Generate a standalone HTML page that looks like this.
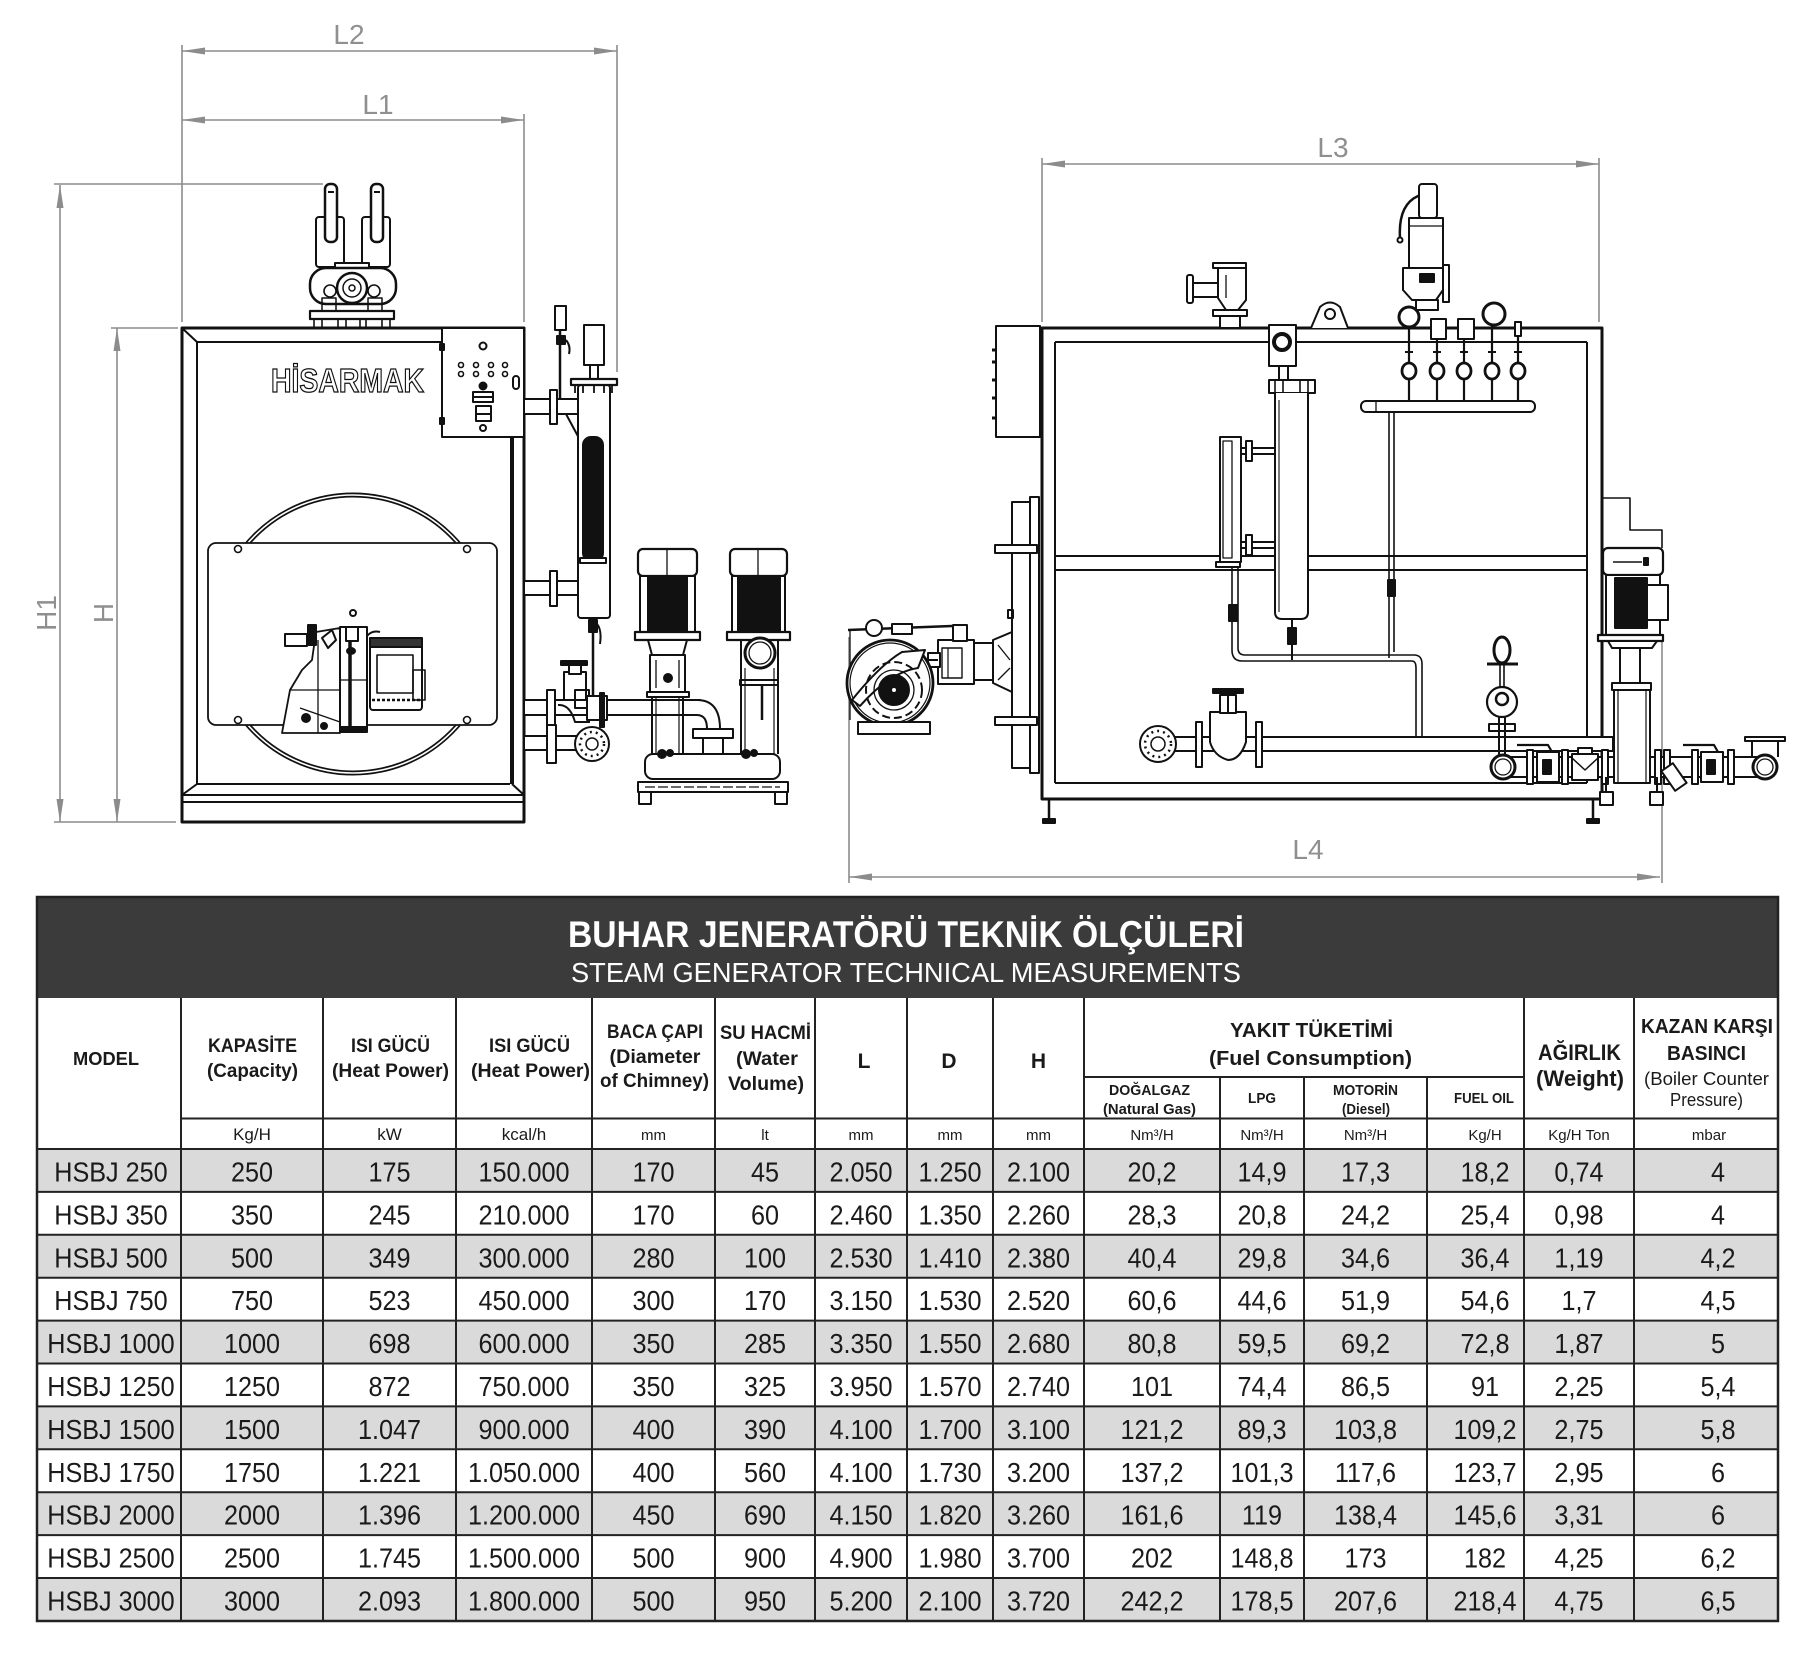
<!DOCTYPE html>
<html>
<head>
<meta charset="utf-8">
<style>
html,body{margin:0;padding:0;background:#fff;}
svg{display:block;}
</style>
</head>
<body>
<svg xmlns="http://www.w3.org/2000/svg" width="1815" height="1673" viewBox="0 0 1815 1673" font-family="'Liberation Sans', sans-serif">
<rect width="1815" height="1673" fill="#fff"/>

<!-- ============ DIMENSIONS ============ -->
<g stroke="#8c8c8c" stroke-width="1.6" fill="none">
  <line x1="182" y1="51" x2="617" y2="51"/>
  <line x1="182" y1="120" x2="524" y2="120"/>
  <line x1="182" y1="45" x2="182" y2="322"/>
  <line x1="524" y1="114" x2="524" y2="322"/>
  <line x1="617" y1="45" x2="617" y2="372"/>
  <line x1="60" y1="185" x2="60" y2="822"/>
  <line x1="117" y1="328" x2="117" y2="822"/>
  <line x1="54" y1="184" x2="323" y2="184"/>
  <line x1="54" y1="822" x2="176" y2="822"/>
  <line x1="111" y1="328" x2="178" y2="328"/>
  <line x1="1042" y1="164" x2="1599" y2="164"/>
  <line x1="1042" y1="158" x2="1042" y2="322"/>
  <line x1="1599" y1="158" x2="1599" y2="322"/>
  <line x1="849" y1="877" x2="1660" y2="877"/>
  <line x1="849" y1="637" x2="849" y2="883"/>
  <line x1="1662" y1="640" x2="1662" y2="883"/>
</g>
<g fill="#8c8c8c">
  <polygon points="182,51 205,47.5 205,54.5"/><polygon points="617,51 594,47.5 594,54.5"/>
  <polygon points="182,120 205,116.5 205,123.5"/><polygon points="524,120 501,116.5 501,123.5"/>
  <polygon points="60,185 56.5,208 63.5,208"/><polygon points="60,822 56.5,799 63.5,799"/>
  <polygon points="117,328 113.5,351 120.5,351"/><polygon points="117,822 113.5,799 120.5,799"/>
  <polygon points="1042,164 1065,160.5 1065,167.5"/><polygon points="1599,164 1576,160.5 1576,167.5"/>
  <polygon points="849,877 872,873.5 872,880.5"/><polygon points="1660,877 1637,873.5 1637,880.5"/>
</g>
<g fill="#8f8f8f" font-size="28" text-anchor="middle">
  <text x="349" y="44">L2</text>
  <text x="378" y="114">L1</text>
  <text x="1333" y="157">L3</text>
  <text x="1308" y="859">L4</text>
  <text transform="translate(56,613) rotate(-90)">H1</text>
  <text transform="translate(113,613) rotate(-90)">H</text>
</g>

<!-- ============ LEFT DRAWING ============ -->
<g stroke="#111" fill="none" stroke-width="2" stroke-linejoin="round">
  <!-- body -->
  <rect x="182" y="328" width="342" height="494" stroke-width="3" fill="#fff"/>
  <path d="M197,784 V342 H442"/>
  <path d="M197,784 H510"/>
  <line x1="512" y1="437" x2="512" y2="784" stroke-width="4"/>
  <line x1="182" y1="328" x2="197" y2="342"/>
  <line x1="182" y1="795" x2="197" y2="784"/>
  <line x1="524" y1="795" x2="512" y2="784"/>
  <line x1="182" y1="795" x2="524" y2="795"/>
  <line x1="182" y1="802" x2="524" y2="802"/>

  <!-- control panel -->
  <rect x="442" y="328" width="82" height="109" fill="#fff"/>
  <circle cx="483" cy="346" r="3.5"/>
  <g stroke-width="1.6">
    <circle cx="461" cy="365" r="2.5"/><circle cx="476" cy="365" r="2.5"/><circle cx="491" cy="365" r="2.5"/><circle cx="505" cy="365" r="2.5"/>
    <circle cx="461" cy="374" r="2.5"/><circle cx="476" cy="374" r="2.5"/><circle cx="491" cy="374" r="2.5"/><circle cx="505" cy="374" r="2.5"/>
  </g>
  <circle cx="483" cy="386" r="3.5" fill="#111"/>
  <rect x="513" y="376" width="6" height="13" rx="3"/>
  <rect x="473" y="392" width="20" height="10"/>
  <line x1="473" y1="397" x2="493" y2="397"/>
  <rect x="476" y="406" width="15" height="15"/>
  <line x1="476" y1="414" x2="491" y2="414"/>
  <circle cx="483" cy="428" r="3"/>
  <rect x="440" y="344" width="4" height="6" fill="#111"/>
  <rect x="440" y="418" width="4" height="6" fill="#111"/>

  <!-- door -->
  <circle cx="353" cy="634" r="139" stroke-width="5"/>
  <circle cx="353" cy="634" r="139" stroke="#fff" stroke-width="1.6"/>
  <rect x="208" y="543" width="289" height="182" rx="8" fill="#fff" stroke-width="1.8"/>
  <g stroke-width="1.6">
    <circle cx="238" cy="549" r="3.5"/><circle cx="467" cy="549" r="3.5"/>
    <circle cx="238" cy="720" r="3.5"/><circle cx="467" cy="720" r="3.5"/>
  </g>

  <!-- burner -->
  <circle cx="353" cy="613" r="3"/>
  <path d="M282,733 L290,690 L302,670 L312,660 L316,632 L340,628 L340,733 Z" fill="#fff" stroke-width="1.8"/>
  <line x1="290" y1="690" x2="340" y2="690" stroke-width="1.3"/>
  <line x1="300" y1="708" x2="340" y2="722" stroke-width="1.3"/>
  <line x1="318" y1="640" x2="318" y2="733" stroke-width="1.3"/>
  <rect x="285" y="634" width="22" height="12" fill="#fff"/>
  <rect x="308" y="625" width="8" height="20" fill="#111"/>
  <path d="M322,638 L332,630 L336,640 L328,648 Z" fill="#fff"/>
  <circle cx="306" cy="718" r="4" fill="#111"/>
  <circle cx="324" cy="726" r="3" fill="#111"/>
  <rect x="340" y="627" width="27" height="104" fill="#fff"/>
  <line x1="350" y1="640" x2="350" y2="731" stroke-width="3.5"/>
  <rect x="346" y="627" width="12" height="14" fill="#fff"/>
  <ellipse cx="351" cy="651" rx="4" ry="3" fill="#111"/>
  <line x1="340" y1="680" x2="367" y2="680" stroke-width="1.2"/>
  <rect x="340" y="727" width="27" height="5" fill="#111"/>
  <path d="M367,636 Q372,630 380,632" />
  <rect x="370" y="638" width="52" height="72" rx="3" fill="#fff"/>
  <rect x="370" y="638" width="52" height="9" fill="#333"/>
  <rect x="377" y="655" width="36" height="38" stroke-width="1.6"/>
  <rect x="413" y="670" width="12" height="30" stroke-width="1.6"/>
  <line x1="372" y1="700" x2="420" y2="700" stroke-width="2.5" stroke-dasharray="3,2"/>

  <!-- safety valves on top -->
  <rect x="316" y="217" width="28" height="50" rx="3" fill="#fff"/>
  <rect x="362" y="217" width="28" height="50" rx="3" fill="#fff"/>
  <rect x="325" y="184" width="12" height="58" rx="5" fill="#fff" stroke-width="2.5"/>
  <rect x="371" y="184" width="12" height="58" rx="5" fill="#fff" stroke-width="2.5"/>
  <line x1="328" y1="192" x2="334" y2="192"/><line x1="374" y1="192" x2="380" y2="192"/>
  <rect x="335" y="263" width="34" height="7" fill="#fff"/>
  <rect x="310" y="268" width="86" height="36" rx="16" fill="#fff" stroke-width="2.5"/>
  <circle cx="352" cy="288" r="15" stroke-width="2.5" fill="#fff"/>
  <circle cx="352" cy="288" r="9" stroke-width="1.5"/>
  <circle cx="352" cy="288" r="3" stroke-width="1.5"/>
  <circle cx="330" cy="291" r="6" stroke-width="1.6"/>
  <circle cx="374" cy="291" r="6" stroke-width="1.6"/>
  <rect x="322" y="298" width="14" height="13" stroke-width="1.5"/>
  <rect x="368" y="298" width="14" height="13" stroke-width="1.5"/>
  <rect x="310" y="311" width="84" height="8" fill="#fff" stroke-width="2.2"/>
  <g stroke-width="1.6">
    <line x1="314" y1="319" x2="314" y2="328"/><line x1="322" y1="319" x2="322" y2="328"/>
    <line x1="338" y1="319" x2="338" y2="328"/><line x1="346" y1="319" x2="346" y2="328"/>
    <line x1="360" y1="319" x2="360" y2="328"/><line x1="366" y1="319" x2="366" y2="328"/>
    <line x1="382" y1="319" x2="382" y2="328"/><line x1="390" y1="319" x2="390" y2="328"/>
  </g>

  <!-- right side column & pipes -->
  <rect x="524" y="399" width="56" height="15" fill="#fff"/>
  <rect x="550" y="390" width="7" height="34" fill="#fff"/>
  <rect x="524" y="581" width="56" height="14" fill="#fff"/>
  <rect x="550" y="571" width="7" height="35" fill="#fff"/>
  <line x1="566" y1="414" x2="580" y2="440"/>
  <rect x="578" y="385" width="32" height="233" rx="3" fill="#fff"/>
  <rect x="571" y="379" width="46" height="6" fill="#fff" stroke-width="2.2"/>
  <g stroke-width="1.8">
    <line x1="575" y1="385" x2="575" y2="393"/><line x1="583" y1="385" x2="583" y2="393"/>
    <line x1="594" y1="385" x2="594" y2="393"/><line x1="604" y1="385" x2="604" y2="393"/>
    <line x1="612" y1="385" x2="612" y2="393"/>
  </g>
  <rect x="584" y="325" width="20" height="40" fill="#fff"/>
  <rect x="590" y="365" width="8" height="14"/>
  <rect x="583" y="437" width="20" height="124" rx="8" fill="#111"/>
  <rect x="580" y="558" width="26" height="5" fill="#fff"/>
  <rect x="555" y="306" width="11" height="24" fill="#fff"/>
  <line x1="560" y1="330" x2="560" y2="400" stroke-width="2.5"/>
  <path d="M557,336 h8 v8 h-8 z" fill="#111"/>
  <path d="M566,340 q5,6 3,14" />
  <line x1="593" y1="618" x2="593" y2="700" stroke-width="2.5"/>
  <rect x="589" y="620" width="8" height="12" fill="#111"/>
  <path d="M597,624 q5,6 3,20"/>
  <!-- bottom pipes left -->
  <rect x="524" y="700" width="176" height="15" fill="#fff"/>
  <path d="M697,700 Q720,700 720,729 L707,729 Q707,715 697,715" fill="#fff"/>
  <rect x="693" y="729" width="40" height="9" fill="#fff"/>
  <rect x="703" y="738" width="20" height="16" fill="#fff"/>
  <rect x="547" y="690" width="8" height="35" fill="#fff"/>
  <rect x="524" y="736" width="70" height="14" fill="#fff"/>
  <rect x="547" y="725" width="9" height="38" fill="#fff"/>
  <circle cx="592" cy="744" r="17" fill="#fff"/>
  <circle cx="592" cy="744" r="12" stroke-width="2.5" stroke-dasharray="2,4"/>
  <circle cx="592" cy="744" r="6" stroke-width="1.5"/>
  <rect x="564" y="672" width="22" height="28" fill="#fff"/>
  <rect x="569" y="664" width="12" height="10" fill="#fff"/>
  <rect x="561" y="661" width="26" height="4" fill="#111"/>
  <rect x="575" y="690" width="14" height="18"/>
  <path d="M558,705 Q570,704 575,722 L590,722" />
  <rect x="587" y="696" width="20" height="24" fill="#fff"/>
  <rect x="600" y="693" width="4" height="34" fill="#111"/>

  <!-- pumps left -->
  <rect x="638" y="549" width="59" height="27" rx="5" fill="#fff" stroke-width="2.2"/>
  <line x1="667" y1="549" x2="667" y2="576" stroke-width="1.3"/>
  <rect x="640" y="576" width="55" height="58" fill="#fff"/>
  <rect x="648" y="576" width="39" height="56" fill="#111"/>
  <rect x="635" y="632" width="65" height="8" fill="#fff" stroke-width="2.2"/>
  <path d="M648,640 H687 L683,655 H652 Z" fill="#fff"/>
  <rect x="650" y="655" width="35" height="37" fill="#fff"/>
  <line x1="656" y1="660" x2="656" y2="688" stroke-width="1.3"/>
  <line x1="679" y1="660" x2="679" y2="688" stroke-width="1.3"/>
  <circle cx="668" cy="678" r="4" fill="#111"/>
  <rect x="647" y="692" width="42" height="5"/>
  <line x1="652" y1="697" x2="652" y2="754"/><line x1="683" y1="697" x2="683" y2="754"/>
  <line x1="656" y1="697" x2="656" y2="754" stroke-width="1.2"/><line x1="679" y1="697" x2="679" y2="754" stroke-width="1.2"/>

  <rect x="730" y="549" width="57" height="27" rx="5" fill="#fff" stroke-width="2.2"/>
  <line x1="758" y1="549" x2="758" y2="576" stroke-width="1.3"/>
  <rect x="732" y="576" width="53" height="58" fill="#fff"/>
  <rect x="738" y="576" width="42" height="56" fill="#111"/>
  <rect x="727" y="632" width="63" height="8" fill="#fff" stroke-width="2.2"/>
  <line x1="741" y1="640" x2="741" y2="754"/><line x1="778" y1="640" x2="778" y2="754"/>
  <line x1="745" y1="668" x2="745" y2="754" stroke-width="1.2"/><line x1="774" y1="668" x2="774" y2="754" stroke-width="1.2"/>
  <circle cx="760" cy="653" r="15" fill="#fff" stroke-width="3"/>
  <circle cx="760" cy="653" r="11" stroke-width="1.3"/>
  <rect x="740" y="680" width="38" height="5"/>
  <line x1="762" y1="685" x2="762" y2="720" stroke-width="2.5"/>

  <rect x="645" y="754" width="135" height="25" rx="8" fill="#fff"/>
  <circle cx="662" cy="754" r="4" fill="#111"/><circle cx="670" cy="753" r="3" fill="#111"/>
  <circle cx="746" cy="754" r="4" fill="#111"/><circle cx="754" cy="753" r="3" fill="#111"/>
  <rect x="638" y="782" width="150" height="10" fill="#fff"/>
  <line x1="645" y1="787" x2="780" y2="787" stroke-width="1.2" stroke-dasharray="10,3"/>
  <rect x="639" y="792" width="12" height="12" fill="#fff"/>
  <rect x="775" y="792" width="12" height="12" fill="#fff"/>
</g>
<text x="271" y="392" font-size="33" font-weight="bold" fill="#fff" stroke="#111" stroke-width="1.3" textLength="153" lengthAdjust="spacingAndGlyphs">HİSARMAK</text>

<!-- ============ RIGHT DRAWING ============ -->
<g stroke="#111" fill="none" stroke-width="2" stroke-linejoin="round">
  <!-- frame -->
  <rect x="1042" y="328" width="560" height="471" stroke-width="3"/>
  <line x1="1055" y1="342" x2="1587" y2="342"/>
  <line x1="1055" y1="342" x2="1055" y2="783"/>
  <line x1="1587" y1="342" x2="1587" y2="783"/>
  <line x1="1055" y1="556" x2="1587" y2="556"/>
  <line x1="1055" y1="570" x2="1587" y2="570"/>
  <line x1="1055" y1="783" x2="1587" y2="783"/>
  <line x1="1049" y1="799" x2="1049" y2="820" stroke-width="2.5"/>
  <rect x="1043" y="819" width="12" height="4" fill="#111"/>
  <line x1="1593" y1="799" x2="1593" y2="820" stroke-width="2.5"/>
  <rect x="1587" y="819" width="12" height="4" fill="#111"/>
  <!-- left box -->
  <rect x="996" y="326" width="44" height="111" fill="#fff"/>
  <g stroke-width="3">
    <line x1="992" y1="350" x2="996" y2="350"/><line x1="992" y1="362" x2="996" y2="362"/>
    <line x1="992" y1="380" x2="996" y2="380"/><line x1="992" y1="398" x2="996" y2="398"/>
    <line x1="992" y1="418" x2="996" y2="418"/>
  </g>
  <!-- front plate -->
  <rect x="1030" y="497" width="9" height="276" fill="#fff"/>
  <rect x="1012" y="502" width="18" height="266" fill="#fff"/>
  <rect x="995" y="545" width="42" height="8" fill="#fff"/>
  <rect x="995" y="717" width="42" height="8" fill="#fff"/>
  <rect x="1008" y="610" width="5" height="8"/>
  <!-- burner -->
  <path d="M993,640 L1012,632 L1012,692 L993,683 Z" fill="#fff"/>
  <path d="M998,645 L1010,660 M998,680 L1010,668" stroke-width="1.3"/>
  <rect x="973" y="643" width="20" height="37" fill="#fff"/>
  <rect x="938" y="640" width="36" height="44" fill="#fff"/>
  <rect x="942" y="648" width="20" height="30" stroke-width="1.4"/>
  <line x1="948" y1="648" x2="948" y2="678" stroke-width="1.2"/>
  <rect x="953" y="625" width="14" height="16" fill="#fff"/>
  <rect x="928" y="653" width="12" height="14" fill="#fff"/>
  <line x1="848" y1="630" x2="952" y2="626" stroke-width="2.5"/>
  <line x1="850" y1="630" x2="850" y2="720" stroke-width="1.3"/>
  <circle cx="874" cy="628" r="8" fill="#fff"/>
  <rect x="892" y="624" width="20" height="10" fill="#fff"/>
  <circle cx="890" cy="683" r="43" fill="#fff" stroke-width="2.8"/>
  <circle cx="890" cy="683" r="40" stroke-width="1.2"/>
  <path d="M852,700 Q880,665 902,652 L925,650 L918,668 Q890,672 860,706 Z" fill="#fff"/>
  <circle cx="894" cy="690" r="28" stroke-width="2" stroke-dasharray="8,4"/>
  <circle cx="894" cy="690" r="20" stroke-width="1.3"/>
  <circle cx="894" cy="690" r="15" fill="#111"/>
  <circle cx="894" cy="690" r="2" fill="#fff" stroke="none"/>
  <rect x="858" y="722" width="72" height="12" fill="#fff"/>
  <line x1="928" y1="660" x2="938" y2="660"/>

  <!-- top: steam valve -->
  <rect x="1187" y="275" width="6" height="28" rx="2" fill="#fff"/>
  <rect x="1193" y="283" width="26" height="14" fill="#fff"/>
  <path d="M1218,268 L1246,268 L1246,300 L1238,310 L1226,310 L1218,298 Z" fill="#fff"/>
  <rect x="1213" y="263" width="33" height="5" fill="#fff"/>
  <rect x="1213" y="310" width="34" height="6" fill="#fff"/>
  <rect x="1220" y="316" width="20" height="12" fill="#fff"/>
  <line x1="1226" y1="275" x2="1226" y2="298" stroke-width="1.3"/>
  <!-- lifting lug -->
  <path d="M1311,328 L1320,307 Q1330,298 1340,307 L1348,328" fill="#fff"/>
  <circle cx="1330" cy="314" r="5"/>
  <!-- safety valve -->
  <path d="M1400,238 Q1398,205 1418,196 L1430,191" stroke-width="2.5"/>
  <circle cx="1400" cy="240" r="2.5"/>
  <rect x="1419" y="184" width="18" height="34" rx="3" fill="#fff"/>
  <rect x="1409" y="218" width="34" height="50" fill="#fff"/>
  <line x1="1409" y1="226" x2="1443" y2="226" stroke-width="1.3"/>
  <path d="M1403,268 H1443 V290 L1436,300 H1412 L1403,290 Z" fill="#fff"/>
  <rect x="1420" y="274" width="14" height="8" fill="#111"/>
  <rect x="1443" y="265" width="6" height="37" fill="#fff"/>
  <rect x="1416" y="300" width="22" height="10" fill="#fff"/>
  <!-- gauges -->
  <circle cx="1409" cy="317" r="10" fill="#fff" stroke-width="3"/>
  <circle cx="1494" cy="314" r="11" fill="#fff" stroke-width="3"/>
  <rect x="1431" y="319" width="15" height="20" fill="#fff"/>
  <rect x="1458" y="319" width="16" height="20" fill="#fff"/>
  <rect x="1515" y="322" width="6" height="14" fill="#fff"/>
  <!-- siphons -->
  <g stroke-width="2.2">
    <line x1="1409" y1="327" x2="1409" y2="401"/>
    <line x1="1437" y1="339" x2="1437" y2="401"/>
    <line x1="1464" y1="339" x2="1464" y2="401"/>
    <line x1="1492" y1="325" x2="1492" y2="401"/>
    <line x1="1518" y1="336" x2="1518" y2="401"/>
  </g>
  <g fill="#fff" stroke-width="2.8">
    <ellipse cx="1409" cy="371" rx="7" ry="8"/>
    <ellipse cx="1437" cy="371" rx="7" ry="8"/>
    <ellipse cx="1464" cy="371" rx="7" ry="8"/>
    <ellipse cx="1492" cy="371" rx="7" ry="8"/>
    <ellipse cx="1518" cy="371" rx="7" ry="8"/>
  </g>
  <g stroke-width="2">
    <line x1="1405" y1="352" x2="1413" y2="352"/><line x1="1433" y1="352" x2="1441" y2="352"/>
    <line x1="1460" y1="352" x2="1468" y2="352"/><line x1="1488" y1="352" x2="1496" y2="352"/>
    <line x1="1514" y1="352" x2="1522" y2="352"/>
  </g>
  <rect x="1361" y="401" width="174" height="11" rx="5" fill="#fff"/>
  <line x1="1376" y1="401" x2="1376" y2="412" stroke-width="1.3"/>
  <!-- thin vertical pipe & return piping -->
  <path d="M1389,412 V658 M1394,412 V652" stroke-width="1.6"/>
  <rect x="1388" y="580" width="7" height="16" fill="#111"/>
  <path d="M1232,562 V650 Q1232,661 1242,661 H1412 Q1416,661 1416,668 V737" stroke-width="1.6"/>
  <path d="M1238,562 V648 Q1238,655 1245,655 H1414 Q1422,655 1422,664 V737" stroke-width="1.6"/>
  <line x1="1292" y1="619" x2="1292" y2="660" stroke-width="2"/>
  <rect x="1288" y="628" width="8" height="16" fill="#111"/>
  <rect x="1229" y="605" width="8" height="16" fill="#111"/>
  <!-- column -->
  <rect x="1269" y="325" width="27" height="41" fill="#fff"/>
  <circle cx="1282" cy="342" r="8" stroke-width="4"/>
  <rect x="1279" y="366" width="9" height="14"/>
  <rect x="1269" y="380" width="46" height="13" fill="#fff"/>
  <g stroke-width="1.6"><line x1="1275" y1="380" x2="1275" y2="393"/><line x1="1283" y1="380" x2="1283" y2="393"/><line x1="1300" y1="380" x2="1300" y2="393"/><line x1="1308" y1="380" x2="1308" y2="393"/></g>
  <path d="M1275,393 V612 Q1275,619 1282,619 H1301 Q1308,619 1308,612 V393" fill="#fff"/>
  <line x1="1279" y1="400" x2="1279" y2="612" stroke-width="1.1"/>
  <!-- level gauge -->
  <rect x="1220" y="437" width="21" height="125" fill="#fff"/>
  <rect x="1223" y="441" width="9" height="117" stroke-width="1.3"/>
  <rect x="1241" y="448" width="34" height="6" fill="#fff"/>
  <rect x="1241" y="542" width="34" height="6" fill="#fff"/>
  <rect x="1246" y="441" width="6" height="20" fill="#fff"/>
  <rect x="1246" y="535" width="6" height="20" fill="#fff"/>
  <rect x="1216" y="562" width="24" height="5" fill="#fff"/>
  <!-- feed pipe -->
  <rect x="1158" y="737" width="455" height="14" fill="#fff"/>
  <circle cx="1158" cy="744" r="18" fill="#fff"/>
  <circle cx="1158" cy="744" r="13" stroke-width="2.5" stroke-dasharray="2,4"/>
  <circle cx="1158" cy="744" r="7" stroke-width="1.5"/>
  <rect x="1196" y="722" width="6" height="45" fill="#fff"/>
  <rect x="1256" y="722" width="6" height="45" fill="#fff"/>
  <path d="M1210,712 H1246 V742 Q1240,760 1228,760 Q1214,756 1210,742 Z" fill="#fff"/>
  <rect x="1220" y="695" width="16" height="18" fill="#fff"/>
  <rect x="1213" y="689" width="30" height="4" fill="#111"/>
  <line x1="1228" y1="693" x2="1228" y2="712"/>
  <!-- gauge right -->
  <ellipse cx="1502" cy="650" rx="8" ry="13" fill="#fff" stroke-width="3"/>
  <line x1="1487" y1="664" x2="1518" y2="664" stroke-width="3"/>
  <line x1="1500" y1="664" x2="1500" y2="700" stroke-width="1.6"/>
  <line x1="1504" y1="664" x2="1504" y2="700" stroke-width="1.6"/>
  <circle cx="1502" cy="702" r="15" fill="#fff" stroke-width="2.2"/>
  <circle cx="1502" cy="699" r="6" stroke-width="2.5"/>
  <rect x="1489" y="724" width="26" height="7" fill="#fff"/>
  <line x1="1499" y1="717" x2="1499" y2="756"/><line x1="1505" y1="717" x2="1505" y2="756"/>
  <!-- right pipe -->
  <rect x="1503" y="757" width="262" height="20" fill="#fff"/>
  <circle cx="1503" cy="767" r="12" fill="#fff" stroke-width="3"/>
  <circle cx="1503" cy="767" r="8" stroke-width="1.3"/>
  <circle cx="1765" cy="767" r="12" fill="#fff" stroke-width="3"/>
  <circle cx="1765" cy="767" r="8" stroke-width="1.3"/>
  <rect x="1745" y="737" width="40" height="4" fill="#fff"/>
  <line x1="1752" y1="741" x2="1752" y2="757"/><line x1="1778" y1="741" x2="1778" y2="757"/>
  <rect x="1527" y="750" width="6" height="34" fill="#fff"/>
  <rect x="1537" y="752" width="22" height="30" fill="#fff"/>
  <rect x="1543" y="760" width="8" height="14" fill="#111"/>
  <path d="M1517,745 H1548 L1552,752" stroke-width="2.2"/>
  <rect x="1562" y="750" width="6" height="34" fill="#fff"/>
  <path d="M1572,754 H1598 V780 H1572 Z" fill="#fff"/>
  <path d="M1572,758 L1585,770 L1598,758" stroke-width="1.5"/>
  <rect x="1578" y="748" width="14" height="6" fill="#fff"/>
  <rect x="1602" y="750" width="6" height="34" fill="#fff"/>
  <rect x="1655" y="750" width="6" height="34" fill="#fff"/>
  <rect x="1664" y="750" width="6" height="34" fill="#fff"/>
  <rect x="1667" y="765" width="14" height="24" transform="rotate(-35 1674 777)" fill="#fff"/>
  <rect x="1692" y="750" width="6" height="34" fill="#fff"/>
  <rect x="1701" y="752" width="22" height="30" fill="#fff"/>
  <rect x="1707" y="760" width="8" height="14" fill="#111"/>
  <path d="M1683,745 H1714 L1718,752" stroke-width="2.2"/>
  <rect x="1728" y="750" width="6" height="34" fill="#fff"/>
  <!-- right pump -->
  <path d="M1602,498 H1630 V530 H1662 V548" stroke-width="1.6"/>
  <rect x="1603" y="548" width="60" height="27" rx="5" fill="#fff" stroke-width="2.2"/>
  <line x1="1613" y1="562" x2="1642" y2="562" stroke-width="1.5"/>
  <rect x="1644" y="558" width="4" height="7" fill="#111"/>
  <rect x="1606" y="575" width="54" height="60" fill="#fff"/>
  <rect x="1615" y="578" width="32" height="50" fill="#111"/>
  <rect x="1647" y="585" width="21" height="35" fill="#fff"/>
  <rect x="1598" y="635" width="65" height="6" fill="#fff" stroke-width="2.2"/>
  <path d="M1608,641 H1657 L1652,648 H1612 Z" fill="#fff"/>
  <line x1="1620" y1="648" x2="1620" y2="683"/><line x1="1640" y1="648" x2="1640" y2="683"/>
  <rect x="1612" y="683" width="39" height="7" fill="#fff"/>
  <rect x="1614" y="690" width="36" height="93" fill="#fff"/>
  <line x1="1618" y1="690" x2="1618" y2="783" stroke-width="1.2"/>
  <line x1="1646" y1="690" x2="1646" y2="783" stroke-width="1.2"/>
  <rect x="1600" y="792" width="13" height="13" fill="#fff"/>
  <rect x="1650" y="792" width="13" height="13" fill="#fff"/>
  <line x1="1606" y1="777" x2="1606" y2="792"/><line x1="1657" y1="777" x2="1657" y2="792"/>
</g>

<!-- ============ TABLE ============ -->
<rect x="37" y="897" width="1741" height="101" fill="#3b3b3b"/>
<g fill="#dadada">
  <rect x="37" y="1149" width="1741" height="42.9"/>
  <rect x="37" y="1234.8" width="1741" height="42.9"/>
  <rect x="37" y="1320.6" width="1741" height="42.9"/>
  <rect x="37" y="1406.4" width="1741" height="42.9"/>
  <rect x="37" y="1492.2" width="1741" height="42.9"/>
  <rect x="37" y="1578" width="1741" height="42.9"/>
</g>
<g stroke="#222" stroke-width="2" fill="none">
  <line x1="181" y1="1118.5" x2="1778" y2="1118.5"/>
  <line x1="1084" y1="1077" x2="1524" y2="1077"/>
  <line x1="37" y1="1149" x2="1778" y2="1149"/>
  <line x1="37" y1="1191.9" x2="1778" y2="1191.9"/>
  <line x1="37" y1="1234.8" x2="1778" y2="1234.8"/>
  <line x1="37" y1="1277.7" x2="1778" y2="1277.7"/>
  <line x1="37" y1="1320.6" x2="1778" y2="1320.6"/>
  <line x1="37" y1="1363.5" x2="1778" y2="1363.5"/>
  <line x1="37" y1="1406.4" x2="1778" y2="1406.4"/>
  <line x1="37" y1="1449.3" x2="1778" y2="1449.3"/>
  <line x1="37" y1="1492.2" x2="1778" y2="1492.2"/>
  <line x1="37" y1="1535.1" x2="1778" y2="1535.1"/>
  <line x1="37" y1="1578" x2="1778" y2="1578"/>
  <line x1="181" y1="998" x2="181" y2="1621"/>
  <line x1="323" y1="998" x2="323" y2="1621"/>
  <line x1="456" y1="998" x2="456" y2="1621"/>
  <line x1="592" y1="998" x2="592" y2="1621"/>
  <line x1="715" y1="998" x2="715" y2="1621"/>
  <line x1="815" y1="998" x2="815" y2="1621"/>
  <line x1="907" y1="998" x2="907" y2="1621"/>
  <line x1="993" y1="998" x2="993" y2="1621"/>
  <line x1="1084" y1="998" x2="1084" y2="1621"/>
  <line x1="1220" y1="1077" x2="1220" y2="1621"/>
  <line x1="1304" y1="1077" x2="1304" y2="1621"/>
  <line x1="1427" y1="1077" x2="1427" y2="1621"/>
  <line x1="1524" y1="998" x2="1524" y2="1621"/>
  <line x1="1634" y1="998" x2="1634" y2="1621"/>
  <rect x="37" y="897" width="1741" height="724" stroke-width="2.5"/>
</g>

<!-- title -->
<text x="906" y="947" text-anchor="middle" font-size="37" font-weight="bold" fill="#fff" textLength="676" lengthAdjust="spacingAndGlyphs">BUHAR JENERATÖRÜ TEKNİK ÖLÇÜLERİ</text>
<text x="906" y="982" text-anchor="middle" font-size="27.5" fill="#fff" textLength="670" lengthAdjust="spacingAndGlyphs">STEAM GENERATOR TECHNICAL MEASUREMENTS</text>

<!-- header labels -->
<g fill="#1a1a1a" font-weight="bold" text-anchor="middle" font-size="19">
  <text x="106" y="1065" font-size="18" textLength="66" lengthAdjust="spacingAndGlyphs">MODEL</text>
  <text x="252.5" y="1052" textLength="89" lengthAdjust="spacingAndGlyphs">KAPASİTE</text>
  <text x="252.5" y="1077" textLength="91" lengthAdjust="spacingAndGlyphs">(Capacity)</text>
  <text x="390.5" y="1052" textLength="79" lengthAdjust="spacingAndGlyphs">ISI GÜCÜ</text>
  <text x="390.5" y="1077" textLength="117" lengthAdjust="spacingAndGlyphs">(Heat Power)</text>
  <text x="529.5" y="1052" textLength="81" lengthAdjust="spacingAndGlyphs">ISI GÜCÜ</text>
  <text x="530.5" y="1077" textLength="119" lengthAdjust="spacingAndGlyphs">(Heat Power)</text>
  <text x="655" y="1038" textLength="96" lengthAdjust="spacingAndGlyphs">BACA ÇAPI</text>
  <text x="655" y="1063" textLength="91" lengthAdjust="spacingAndGlyphs">(Diameter</text>
  <text x="654.5" y="1087" textLength="109" lengthAdjust="spacingAndGlyphs">of Chimney)</text>
  <text x="765.5" y="1039" textLength="91" lengthAdjust="spacingAndGlyphs">SU HACMİ</text>
  <text x="767" y="1065" textLength="62" lengthAdjust="spacingAndGlyphs">(Water</text>
  <text x="766" y="1090" textLength="76" lengthAdjust="spacingAndGlyphs">Volume)</text>
  <text x="864" y="1068" font-size="21">L</text>
  <text x="949" y="1068" font-size="21">D</text>
  <text x="1038.5" y="1068" font-size="21">H</text>
  <text x="1311.5" y="1037" font-size="20" textLength="163" lengthAdjust="spacingAndGlyphs">YAKIT TÜKETİMİ</text>
  <text x="1310.5" y="1065" font-size="20" textLength="203" lengthAdjust="spacingAndGlyphs">(Fuel Consumption)</text>
  <text x="1149.5" y="1095" font-size="15" textLength="81" lengthAdjust="spacingAndGlyphs">DOĞALGAZ</text>
  <text x="1149.5" y="1114" font-size="15" textLength="93" lengthAdjust="spacingAndGlyphs">(Natural Gas)</text>
  <text x="1262" y="1103" font-size="15" textLength="28" lengthAdjust="spacingAndGlyphs">LPG</text>
  <text x="1365.5" y="1095" font-size="15" textLength="65" lengthAdjust="spacingAndGlyphs">MOTORİN</text>
  <text x="1366" y="1114" font-size="15" textLength="48" lengthAdjust="spacingAndGlyphs">(Diesel)</text>
  <text x="1484" y="1103" font-size="15" textLength="60" lengthAdjust="spacingAndGlyphs">FUEL OIL</text>
  <text x="1579.5" y="1060" font-size="22" textLength="83" lengthAdjust="spacingAndGlyphs">AĞIRLIK</text>
  <text x="1580" y="1086" font-size="22" textLength="88" lengthAdjust="spacingAndGlyphs">(Weight)</text>
  <text x="1707" y="1033" font-size="20" textLength="132" lengthAdjust="spacingAndGlyphs">KAZAN KARŞI</text>
  <text x="1706.5" y="1060" font-size="20" textLength="79" lengthAdjust="spacingAndGlyphs">BASINCI</text>
  <text x="1706.5" y="1085" font-size="18" font-weight="normal" textLength="125" lengthAdjust="spacingAndGlyphs">(Boiler Counter</text>
  <text x="1706.5" y="1106" font-size="18" font-weight="normal" textLength="73" lengthAdjust="spacingAndGlyphs">Pressure)</text>
</g>
<!-- units -->
<g fill="#1a1a1a" text-anchor="middle" font-size="17">
  <text x="252" y="1140">Kg/H</text>
  <text x="389.5" y="1140">kW</text>
  <text x="524" y="1140">kcal/h</text>
  <text x="653.5" y="1140" font-size="15">mm</text>
  <text x="765" y="1140" font-size="15">lt</text>
  <text x="861" y="1140" font-size="15">mm</text>
  <text x="950" y="1140" font-size="15">mm</text>
  <text x="1038.5" y="1140" font-size="15">mm</text>
  <text x="1152" y="1140" font-size="15">Nm³/H</text>
  <text x="1262" y="1140" font-size="15">Nm³/H</text>
  <text x="1365.5" y="1140" font-size="15">Nm³/H</text>
  <text x="1485" y="1140" font-size="15">Kg/H</text>
  <text x="1579" y="1140" font-size="15">Kg/H Ton</text>
  <text x="1709" y="1140" font-size="15">mbar</text>
</g>

<!-- data -->
<g fill="#1a1a1a" text-anchor="middle" font-size="28" transform="scale(0.9 1)">
  <g transform="translate(0 1181.5)">
    <text x="123.3">HSBJ 250</text><text x="280">250</text><text x="432.8">175</text><text x="582.2">150.000</text><text x="726.1">170</text><text x="850">45</text><text x="956.7">2.050</text><text x="1055.6">1.250</text><text x="1153.9">2.100</text><text x="1280">20,2</text><text x="1402.2">14,9</text><text x="1517.2">17,3</text><text x="1650">18,2</text><text x="1754.4">0,74</text><text x="1908.9">4</text>
  </g>
  <g transform="translate(0 1224.4)">
    <text x="123.3">HSBJ 350</text><text x="280">350</text><text x="432.8">245</text><text x="582.2">210.000</text><text x="726.1">170</text><text x="850">60</text><text x="956.7">2.460</text><text x="1055.6">1.350</text><text x="1153.9">2.260</text><text x="1280">28,3</text><text x="1402.2">20,8</text><text x="1517.2">24,2</text><text x="1650">25,4</text><text x="1754.4">0,98</text><text x="1908.9">4</text>
  </g>
  <g transform="translate(0 1267.3)">
    <text x="123.3">HSBJ 500</text><text x="280">500</text><text x="432.8">349</text><text x="582.2">300.000</text><text x="726.1">280</text><text x="850">100</text><text x="956.7">2.530</text><text x="1055.6">1.410</text><text x="1153.9">2.380</text><text x="1280">40,4</text><text x="1402.2">29,8</text><text x="1517.2">34,6</text><text x="1650">36,4</text><text x="1754.4">1,19</text><text x="1908.9">4,2</text>
  </g>
  <g transform="translate(0 1310.2)">
    <text x="123.3">HSBJ 750</text><text x="280">750</text><text x="432.8">523</text><text x="582.2">450.000</text><text x="726.1">300</text><text x="850">170</text><text x="956.7">3.150</text><text x="1055.6">1.530</text><text x="1153.9">2.520</text><text x="1280">60,6</text><text x="1402.2">44,6</text><text x="1517.2">51,9</text><text x="1650">54,6</text><text x="1754.4">1,7</text><text x="1908.9">4,5</text>
  </g>
  <g transform="translate(0 1353.1)">
    <text x="123.3">HSBJ 1000</text><text x="280">1000</text><text x="432.8">698</text><text x="582.2">600.000</text><text x="726.1">350</text><text x="850">285</text><text x="956.7">3.350</text><text x="1055.6">1.550</text><text x="1153.9">2.680</text><text x="1280">80,8</text><text x="1402.2">59,5</text><text x="1517.2">69,2</text><text x="1650">72,8</text><text x="1754.4">1,87</text><text x="1908.9">5</text>
  </g>
  <g transform="translate(0 1396)">
    <text x="123.3">HSBJ 1250</text><text x="280">1250</text><text x="432.8">872</text><text x="582.2">750.000</text><text x="726.1">350</text><text x="850">325</text><text x="956.7">3.950</text><text x="1055.6">1.570</text><text x="1153.9">2.740</text><text x="1280">101</text><text x="1402.2">74,4</text><text x="1517.2">86,5</text><text x="1650">91</text><text x="1754.4">2,25</text><text x="1908.9">5,4</text>
  </g>
  <g transform="translate(0 1438.9)">
    <text x="123.3">HSBJ 1500</text><text x="280">1500</text><text x="432.8">1.047</text><text x="582.2">900.000</text><text x="726.1">400</text><text x="850">390</text><text x="956.7">4.100</text><text x="1055.6">1.700</text><text x="1153.9">3.100</text><text x="1280">121,2</text><text x="1402.2">89,3</text><text x="1517.2">103,8</text><text x="1650">109,2</text><text x="1754.4">2,75</text><text x="1908.9">5,8</text>
  </g>
  <g transform="translate(0 1481.8)">
    <text x="123.3">HSBJ 1750</text><text x="280">1750</text><text x="432.8">1.221</text><text x="582.2">1.050.000</text><text x="726.1">400</text><text x="850">560</text><text x="956.7">4.100</text><text x="1055.6">1.730</text><text x="1153.9">3.200</text><text x="1280">137,2</text><text x="1402.2">101,3</text><text x="1517.2">117,6</text><text x="1650">123,7</text><text x="1754.4">2,95</text><text x="1908.9">6</text>
  </g>
  <g transform="translate(0 1524.7)">
    <text x="123.3">HSBJ 2000</text><text x="280">2000</text><text x="432.8">1.396</text><text x="582.2">1.200.000</text><text x="726.1">450</text><text x="850">690</text><text x="956.7">4.150</text><text x="1055.6">1.820</text><text x="1153.9">3.260</text><text x="1280">161,6</text><text x="1402.2">119</text><text x="1517.2">138,4</text><text x="1650">145,6</text><text x="1754.4">3,31</text><text x="1908.9">6</text>
  </g>
  <g transform="translate(0 1567.6)">
    <text x="123.3">HSBJ 2500</text><text x="280">2500</text><text x="432.8">1.745</text><text x="582.2">1.500.000</text><text x="726.1">500</text><text x="850">900</text><text x="956.7">4.900</text><text x="1055.6">1.980</text><text x="1153.9">3.700</text><text x="1280">202</text><text x="1402.2">148,8</text><text x="1517.2">173</text><text x="1650">182</text><text x="1754.4">4,25</text><text x="1908.9">6,2</text>
  </g>
  <g transform="translate(0 1610.5)">
    <text x="123.3">HSBJ 3000</text><text x="280">3000</text><text x="432.8">2.093</text><text x="582.2">1.800.000</text><text x="726.1">500</text><text x="850">950</text><text x="956.7">5.200</text><text x="1055.6">2.100</text><text x="1153.9">3.720</text><text x="1280">242,2</text><text x="1402.2">178,5</text><text x="1517.2">207,6</text><text x="1650">218,4</text><text x="1754.4">4,75</text><text x="1908.9">6,5</text>
  </g>
</g>
</svg>
</body>
</html>
